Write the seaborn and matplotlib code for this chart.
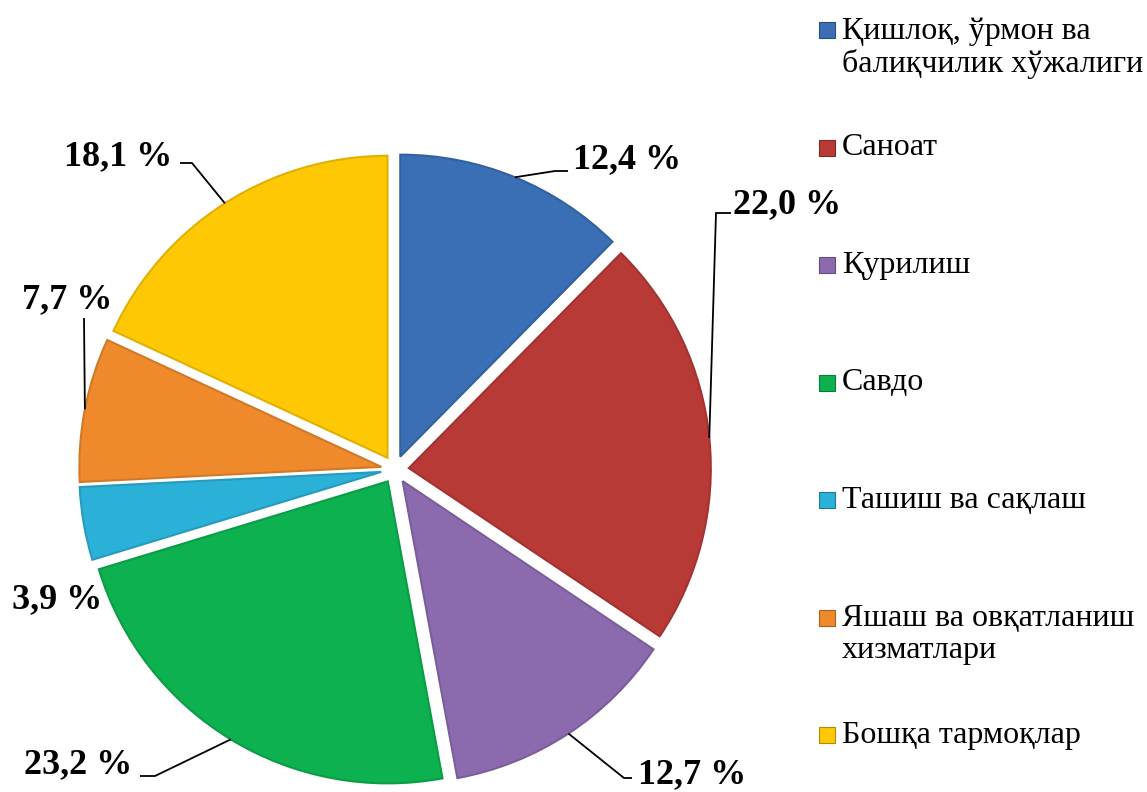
import numpy as np
import matplotlib
matplotlib.use("Agg")
import matplotlib.pyplot as plt
import seaborn as sns
from matplotlib.patches import Rectangle

sns.set_theme(style="white")
plt.rcParams['font.family'] = ['Liberation Serif', 'DejaVu Serif']

categories = ["Қишлоқ, ўрмон ва\nбалиқчилик хўжалиги", "Саноат", "Қурилиш", "Савдо",
              "Ташиш ва сақлаш", "Яшаш ва овқатланиш\nхизматлари", "Бошқа тармоқлар"]
values = [12.4, 22.0, 12.7, 23.2, 3.9, 7.7, 18.1]
value_labels = ["12,4 %", "22,0 %", "12,7 %", "23,2 %", "3,9 %", "7,7 %", "18,1 %"]
colors = sns.color_palette(["#3A6EB5", "#B83A37", "#8B6BAE", "#0DB14F",
                            "#2BB0D8", "#EE8A2C", "#FFC805"])

W, H = 1147, 792
CX, CY, R = 395.0, 469.5, 302.0

fig = plt.figure(figsize=(W / 100, H / 100), dpi=100)
ax = fig.add_axes([0, 0, 1, 1])

def px2d(px, py):
    return (px - CX) / R, (CY - py) / R

def shade(c, f):
    return tuple(np.clip(np.array(c) * f, 0, 1))

wedges, _ = ax.pie(values, colors=colors, startangle=90, counterclock=False,
                   explode=[0.046] * len(values), radius=1.0,
                   wedgeprops=dict(linewidth=0))
for w, c in zip(wedges, colors):
    w.set_edgecolor(shade(c, 0.88))
    w.set_linewidth(1.5)

x0, y0 = px2d(0, H)
x1, y1 = px2d(W, 0)
ax.set_xlim(x0, x1)
ax.set_ylim(y0, y1)
ax.set_aspect('auto')
ax.axis('off')

# label centers (px), leader start and elbow (px); None = no leader
label_pos = [(627, 160), (787, 205), (692, 775), (78, 765), (57, 600), (67, 300), (118, 157)]
leader_start = [(568, 171), (731, 213), (632, 778), (140, 776), None, (84, 318), (180, 163)]
leader_elbow = [(555, 171), (716, 213), (624, 778), (155, 776), None, (84, 318), (192, 163)]

for w, lab, pos, st, el in zip(wedges, value_labels, label_pos, leader_start, leader_elbow):
    tx, ty = px2d(*pos)
    ax.text(tx, ty, lab, ha='center', va='center', fontsize=26, fontweight='bold', color='black')
    if st is None:
        continue
    mid = np.deg2rad((w.theta1 + w.theta2) / 2)
    cx, cy = w.center
    end = (cx + w.r * np.cos(mid), cy + w.r * np.sin(mid))
    s = px2d(*st)
    e = px2d(*el)
    ax.plot([s[0], e[0], end[0]], [s[1], e[1], end[1]], color='black', lw=1.3,
            solid_capstyle='butt', solid_joinstyle='miter')

# legend (manual, Excel-style spacing)
for i, (cat, c) in enumerate(zip(categories, colors)):
    ypx = 30 + i * 117.5
    fig.patches.append(Rectangle((819 / W, 1 - (ypx + 8) / H), 16 / W, 16 / H,
                                 transform=fig.transFigure, facecolor=c,
                                 edgecolor=shade(c, 0.7), linewidth=0.8))
    if '\n' in cat:
        fig.text(842 / W, 1 - (ypx - 13) / H, cat, ha='left', va='top',
                 fontsize=23, color='black', linespacing=1.13)
    else:
        fig.text(842 / W, 1 - ypx / H, cat, ha='left', va='center',
                 fontsize=23, color='black')

fig.savefig("out.png", dpi=100, facecolor='white')
